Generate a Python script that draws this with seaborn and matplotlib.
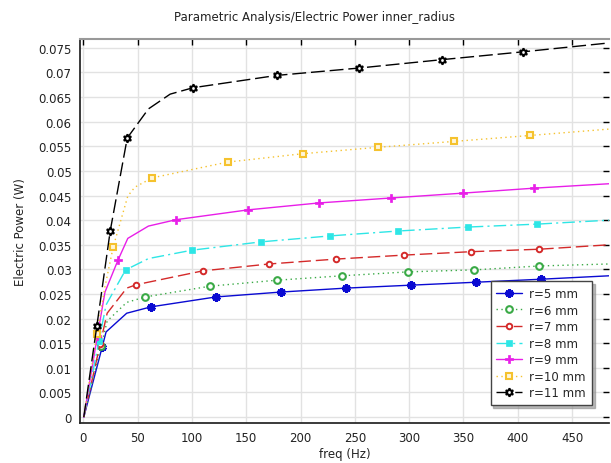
import numpy as np
import pandas as pd
import seaborn as sns
import matplotlib
matplotlib.use("Agg")
import matplotlib.pyplot as plt
from matplotlib.ticker import FuncFormatter, MultipleLocator

# values (freq in Hz, power in W); m* = indices that carry a marker
f5 = [0.5, 17.5, 21, 40, 62.5, 122, 182, 242, 302, 362, 421, 484]
p5 = [0.0, 0.0143, 0.0173, 0.0211, 0.0224, 0.0244, 0.0254, 0.0262, 0.0268, 0.0274, 0.0280, 0.0287]
m5 = [1, 4, 5, 6, 7, 8, 9, 10]

f6 = [0.5, 16.5, 22, 40, 57, 117, 178, 238, 299, 360, 420, 484]
p6 = [0.0, 0.0145, 0.0195, 0.0233, 0.0244, 0.0266, 0.0278, 0.0287, 0.0295, 0.0299, 0.0307, 0.0311]
m6 = [1, 4, 5, 6, 7, 8, 9, 10]

f7 = [0.5, 15.5, 22, 40, 49, 110, 171, 233, 295, 357, 420, 484]
p7 = [0.0, 0.0148, 0.0211, 0.0262, 0.0269, 0.0297, 0.0311, 0.0321, 0.0329, 0.0336, 0.0341, 0.0350]
m7 = [1, 4, 5, 6, 7, 8, 9, 10]

f8 = [0.5, 14.5, 21, 39, 60, 100, 164, 227, 290, 354, 418, 484]
p8 = [0.0, 0.0155, 0.0228, 0.0299, 0.0322, 0.0339, 0.0356, 0.0368, 0.0378, 0.0386, 0.0392, 0.0400]
m8 = [1, 3, 5, 6, 7, 8, 9, 10]

f9 = [0.5, 13, 20, 32, 41, 60, 85.5, 152, 217, 283, 350, 415, 484]
p9 = [0.0, 0.0165, 0.0254, 0.0319, 0.0363, 0.0388, 0.0401, 0.0421, 0.0435, 0.0445, 0.0455, 0.0465, 0.0474]
m9 = [1, 3, 6, 7, 8, 9, 10, 11]

f10 = [0.5, 12.5, 20, 27.5, 41, 47.5, 63.5, 133, 202, 271.5, 341.5, 411, 484]
p10 = [0.0, 0.0169, 0.0265, 0.0345, 0.0449, 0.0467, 0.0486, 0.0518, 0.0535, 0.0548, 0.0560, 0.0572, 0.0585]
m10 = [1, 3, 6, 7, 8, 9, 10, 11]

f11 = [0.5, 12.5, 24.8, 40.5, 60, 80, 101, 178, 254, 330, 405, 484]
p11 = [0.0, 0.0185, 0.0378, 0.0567, 0.0626, 0.0656, 0.0669, 0.0694, 0.0709, 0.0726, 0.0742, 0.0760]
m11 = [1, 2, 3, 6, 7, 8, 9, 10]

labels = ["r=5 mm", "r=6 mm", "r=7 mm", "r=8 mm", "r=9 mm", "r=10 mm", "r=11 mm"]

sns.set_theme(style="whitegrid")
plt.rcParams["font.family"] = ["DejaVu Sans"]

fig = plt.figure(figsize=(6.11, 4.64), dpi=100)
ax = fig.add_axes([80 / 611, 40 / 464, 529 / 611, 384 / 464])

blue, green, red, cyan, magenta, yellow = "#0a0ad2", "#3aaa46", "#d42a2a", "#2ee6e6", "#e81ee8", "#f5c22e"
styles = [
    dict(color=blue, linestyle="-", marker=(6, 2, 0), markersize=6, markeredgewidth=2.2,
         markeredgecolor=blue),
    dict(color=green, linestyle=(0, (1, 2.5)), marker="o", markersize=4.8,
         markerfacecolor="white", markeredgecolor=green, markeredgewidth=1.5),
    dict(color=red, linestyle=(0, (9, 3.5)), marker="o", markersize=4,
         markerfacecolor="white", markeredgecolor=red, markeredgewidth=1.4),
    dict(color=cyan, linestyle=(0, (9, 3, 1.5, 3)), marker="s", markersize=4,
         markeredgecolor=cyan, markeredgewidth=0.5),
    dict(color=magenta, linestyle="-", marker="P", markersize=6,
         markeredgecolor=magenta, markeredgewidth=0.5),
    dict(color=yellow, linestyle=(0, (1, 2.5)), marker="s", markersize=5,
         markerfacecolor="#fff6d8", markeredgecolor=yellow, markeredgewidth=1.5),
    dict(color="black", linestyle=(0, (10, 3.5)), marker=(6, 1, 0), markersize=6,
         markerfacecolor="white", markeredgecolor="black", markeredgewidth=1.4),
]

series = [(f5, p5, m5), (f6, p6, m6), (f7, p7, m7), (f8, p8, m8),
          (f9, p9, m9), (f10, p10, m10), (f11, p11, m11)]

for (fx, py, mk), lab, st in zip(series, labels, styles):
    sns.lineplot(x=fx, y=py, ax=ax, label=lab, linewidth=1.0, markevery=mk, **st)

ax.set_xlim(-3, 484)
ax.set_ylim(-0.0012, 0.0768)
ax.xaxis.set_major_locator(MultipleLocator(50))
ax.yaxis.set_major_locator(MultipleLocator(0.005))
ax.yaxis.set_major_formatter(FuncFormatter(lambda v, _: f"{round(v, 4):g}"))
ax.grid(True, color="#e2e2e2", linewidth=1.0)
ax.tick_params(direction="in", length=4, width=1, color="black", labelsize=8.5,
               top=True, right=True, labelcolor="#222222", pad=6)
for side in ["left", "bottom"]:
    ax.spines[side].set_color("#222222")
ax.spines["top"].set_color("#999999")
ax.spines["top"].set_linewidth(1.5)
ax.spines["right"].set_visible(False)

ax.set_xlabel("freq (Hz)", fontsize=8.5, labelpad=2, color="#222222")
ax.set_ylabel("Electric Power (W)", fontsize=8.5, labelpad=8, color="#222222")
fig.text(314 / 611, 1 - 18 / 464, "Parametric Analysis/Electric Power inner_radius",
         ha="center", va="center", fontsize=8.5, color="#222222")

leg = ax.legend(loc="lower right", bbox_to_anchor=(0.979, 0.031), fontsize=8.5,
                frameon=True, fancybox=False, edgecolor="#444444", framealpha=1,
                handlelength=2.2, labelspacing=0.3, borderpad=0.5, handletextpad=0.6,
                shadow={"color": "0.55", "alpha": 0.6})
leg.get_frame().set_linewidth(1.0)

fig.savefig("out.png", dpi=100)
